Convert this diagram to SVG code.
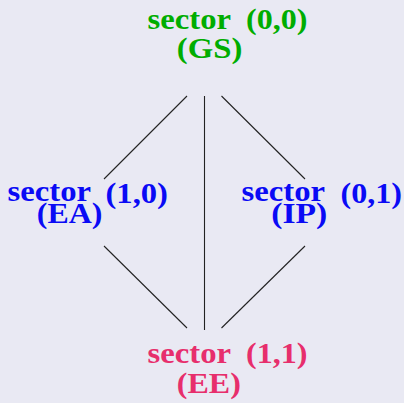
<svg xmlns="http://www.w3.org/2000/svg" width="404" height="403" viewBox="0 0 404 403">
  <style>
    .t { font-family: "Liberation Serif", "Times New Roman", serif; font-weight: bold; font-size: 29px; }
    .g { fill: #00ad00; }
    .b { fill: #0a0af5; }
    .r { fill: #e72e6c; }
    .e { stroke: #222; stroke-width: 1.1; fill: none; }
  </style>
  <rect width="404" height="403" fill="#e9e9f3"/>
  <g id="connectors">
    <line class="e" x1="187" y1="96" x2="104" y2="179"/>
    <line class="e" x1="204.5" y1="96" x2="204.5" y2="330"/>
    <line class="e" x1="221.5" y1="96" x2="305" y2="179"/>
    <line class="e" x1="104" y1="246" x2="187" y2="328"/>
    <line class="e" x1="305" y1="246" x2="221.5" y2="328"/>
  </g>
  <g id="GS">
    <text class="t g" x="147.5" y="28.5" textLength="83.5" lengthAdjust="spacingAndGlyphs">sector</text>
    <text class="t g" x="246" y="28.5" textLength="61.5" lengthAdjust="spacingAndGlyphs">(0,0)</text>
    <text class="t g" x="176.8" y="58" textLength="65.5" lengthAdjust="spacingAndGlyphs">(GS)</text>
  </g>
  <g id="EA">
    <text class="t b" x="7.5" y="201" textLength="83.5" lengthAdjust="spacingAndGlyphs">sector</text>
    <text class="t b" x="105.5" y="203.3" textLength="62.5" lengthAdjust="spacingAndGlyphs">(1,0)</text>
    <text class="t b" x="36.8" y="222.7" textLength="65.5" lengthAdjust="spacingAndGlyphs">(EA)</text>
  </g>
  <g id="IP">
    <text class="t b" x="241.5" y="201" textLength="83.5" lengthAdjust="spacingAndGlyphs">sector</text>
    <text class="t b" x="340.5" y="203.3" textLength="61.5" lengthAdjust="spacingAndGlyphs">(0,1)</text>
    <text class="t b" x="271.2" y="222.7" textLength="56" lengthAdjust="spacingAndGlyphs">(IP)</text>
  </g>
  <g id="EE">
    <text class="t r" x="147.5" y="363.3" textLength="83.5" lengthAdjust="spacingAndGlyphs">sector</text>
    <text class="t r" x="246" y="363.3" textLength="61.5" lengthAdjust="spacingAndGlyphs">(1,1)</text>
    <text class="t r" x="176.8" y="392.7" textLength="64" lengthAdjust="spacingAndGlyphs">(EE)</text>
  </g>
</svg>
